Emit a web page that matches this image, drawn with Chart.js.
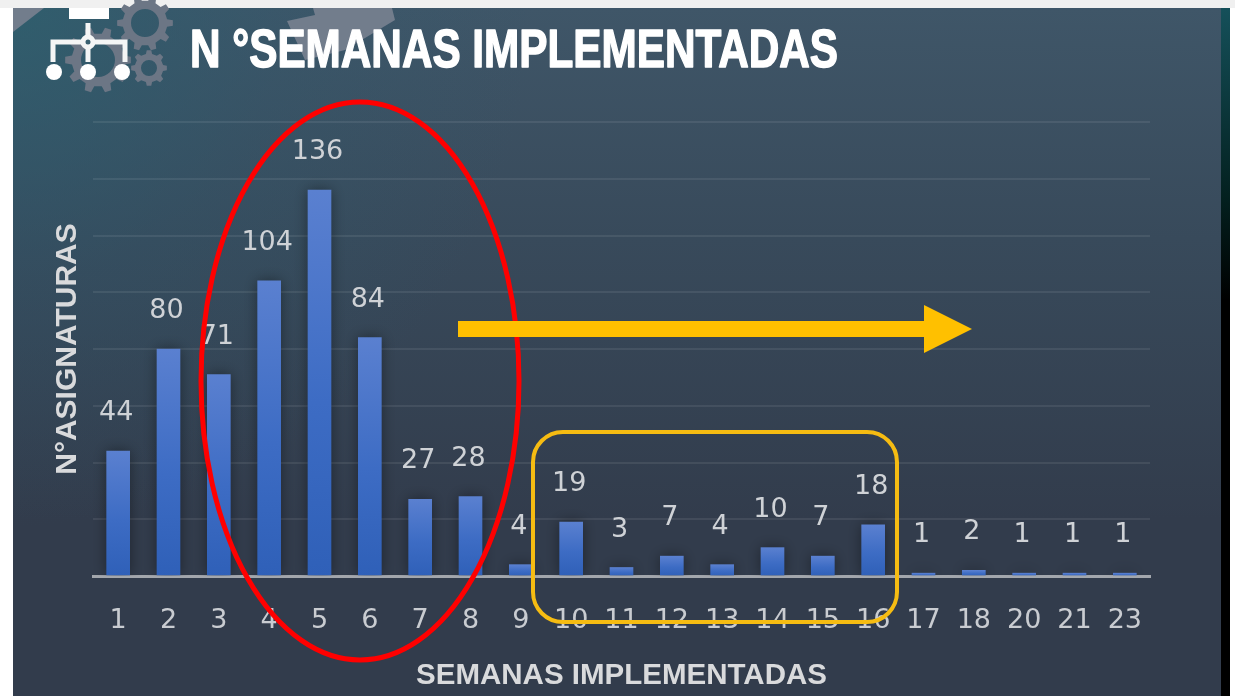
<!DOCTYPE html>
<html><head><meta charset="utf-8">
<style>html,body{margin:0;padding:0;background:#fff;overflow:hidden}
#w{position:absolute;left:0;top:0;width:1235px;height:696px}
canvas{filter:blur(0.7px)}</style>
<script src="https://cdn.jsdelivr.net/npm/chart.js@4/dist/chart.umd.min.js"></script>
</head><body><div id="w"><canvas id="c" width="1235" height="696"></canvas></div>
<script>
const categories=['1','2','3','4','5','6','7','8','9','10','11','12','13','14','15','16','17','18','20','21','23'];
const asignaturas=[44,80,71,104,136,84,27,28,4,19,3,7,4,10,7,18,1,2,1,1,1];
const chartTitle='N °SEMANAS IMPLEMENTADAS';
const xTitle='SEMANAS IMPLEMENTADAS';
const yTitle='N°ASIGNATURAS';

function gear(ctx,x,y,r,hole,teeth,col){
  ctx.save();ctx.fillStyle=col;ctx.beginPath();
  const tw=Math.PI/teeth;
  for(let i=0;i<teeth;i++){
    const a=i*2*Math.PI/teeth;
    [[-tw*.55,r*.8],[-tw*.32,r],[tw*.32,r],[tw*.55,r*.8]].forEach(([d,q],k)=>{
      const px=x+Math.cos(a+d)*q,py=y+Math.sin(a+d)*q;
      (i===0&&k===0)?ctx.moveTo(px,py):ctx.lineTo(px,py);
    });
  }
  ctx.closePath();ctx.moveTo(x+hole,y);ctx.arc(x,y,hole,0,Math.PI*2,true);ctx.fill('evenodd');ctx.restore();
}
const decor={id:'decor',beforeDraw(ch){
  const c=ch.ctx;c.save();
  c.fillStyle='#ffffff';c.fillRect(0,0,1235,696);
  c.fillStyle='#f0f0f0';c.fillRect(0,0,1235,8);
  let g=c.createLinearGradient(0,8,0,520);
  g.addColorStop(0,'#3f5668');g.addColorStop(.45,'#384a5b');g.addColorStop(1,'#323c4c');
  c.fillStyle=g;c.fillRect(13,8,1208,688);
  g=c.createRadialGradient(13,8,20,13,8,520);
  g.addColorStop(0,'rgba(44,95,110,.75)');g.addColorStop(.5,'rgba(44,90,110,.25)');g.addColorStop(1,'rgba(44,90,110,0)');
  c.fillStyle=g;c.fillRect(13,8,1208,688);
  g=c.createLinearGradient(0,8,0,300);
  g.addColorStop(0,'#15505a');g.addColorStop(.65,'#03201f');g.addColorStop(1,'#000');
  c.fillStyle=g;c.fillRect(1221,8,9,688);
  c.fillStyle='#727d8c';
  c.beginPath();c.moveTo(13,8);c.lineTo(44,8);c.lineTo(13,32);c.closePath();c.fill();
  c.beginPath();c.moveTo(313,8);c.lineTo(392,8);c.lineTo(395,20);c.lineTo(345,50);c.lineTo(305,60);c.lineTo(287,21);c.lineTo(315,15);c.closePath();c.fill();
  gear(c,145,23,28,14,10,'#6c7685');
  gear(c,98,60,33,17,10,'#6c7685');
  gear(c,149,68,18,8,8,'#6c7685');
  c.strokeStyle='#f4f5f5';c.fillStyle='#ffffff';c.lineWidth=5;
  c.fillRect(69,8,40,11);
  c.beginPath();c.moveTo(88,23);c.lineTo(88,62);c.moveTo(53,62);c.lineTo(53,42);c.lineTo(125,42);c.lineTo(125,62);c.stroke();
  [54,88,122].forEach(x=>{c.beginPath();c.arc(x,72,8,0,Math.PI*2);c.fill();});
  c.fillStyle='#3a6070';c.beginPath();c.arc(88,42,5,0,Math.PI*2);c.fill();c.stroke();
  c.fillStyle='#ffffff';c.strokeStyle='#ffffff';c.lineWidth=1.5;c.lineJoin='round';
  c.font='bold 54px "Liberation Sans Narrow","Liberation Sans"';c.textBaseline='alphabetic';c.textAlign='left';
  c.fillText(chartTitle,190,67,648);c.strokeText(chartTitle,190,67,648);
  c.restore();
},
beforeDatasetsDraw(ch){const c=ch.ctx;c.save();c.shadowColor='rgba(0,0,0,.4)';c.shadowBlur=14;},
afterDatasetsDraw(ch){
  const c=ch.ctx;c.restore();c.save();
  c.fillStyle='#cfd2d6';c.font='27px "DejaVu Sans"';c.textAlign='center';c.textBaseline='middle';
  ch.getDatasetMeta(0).data.forEach((b,i)=>{c.fillText(String(asignaturas[i]),b.x-2,b.y-38);});
  c.restore();
},
afterDraw(ch){
  const c=ch.ctx;c.save();
  c.strokeStyle='#ff0000';c.lineWidth=5;
  c.beginPath();c.ellipse(360,381,159,279,0,0,Math.PI*2);c.stroke();
  c.strokeStyle='#f6bc12';c.lineWidth=4;
  c.beginPath();c.roundRect(533,432,364,190,30);c.stroke();
  c.fillStyle='#ffc000';
  c.fillRect(458,321,468,16);
  c.beginPath();c.moveTo(924,305);c.lineTo(972,329);c.lineTo(924,353);c.closePath();c.fill();
  c.restore();
}};
new Chart(document.getElementById('c'),{
  type:'bar',
  data:{labels:categories,datasets:[{data:asignaturas,barThickness:23,
    backgroundColor(ctx){
      const ch=ctx.chart;if(!ch.chartArea||!ch.scales.y)return '#3f6cc4';
      const y0=ch.scales.y.getPixelForValue(0),y1=ch.scales.y.getPixelForValue(ctx.raw);
      const g=ch.ctx.createLinearGradient(0,y1,0,y0);
      g.addColorStop(0,'#5a80d0');g.addColorStop(.55,'#3d6cc4');g.addColorStop(1,'#2f60b8');
      return g;
    }}]},
  options:{responsive:false,animation:false,
    layout:{padding:{top:122,right:85,left:0,bottom:0}},
    plugins:{legend:{display:false},tooltip:{enabled:false}},
    scales:{
      x:{grid:{display:false,drawTicks:false},border:{color:'#a3a7ad',width:3},
        ticks:{autoSkip:false,maxRotation:0,minRotation:0,color:'#c9ccd1',padding:29,font:{family:'DejaVu Sans',size:27}},
        title:{display:true,text:xTitle,color:'#d9dadc',font:{family:'Liberation Sans',weight:'bold',size:29.5},padding:{top:12,bottom:2}},
        afterFit(s){s.height=120;}},
      y:{min:0,max:160,grid:{color:'rgba(255,255,255,.08)',lineWidth:2,drawTicks:false},border:{display:false},
        ticks:{display:false,stepSize:20},
        title:{display:true,text:yTitle,color:'#d9dadc',font:{family:'Liberation Sans',weight:'bold',size:30},padding:{top:50,bottom:0}},
        afterFit(s){s.width=93;}}
    }},
  plugins:[decor]
});
</script></body></html>
